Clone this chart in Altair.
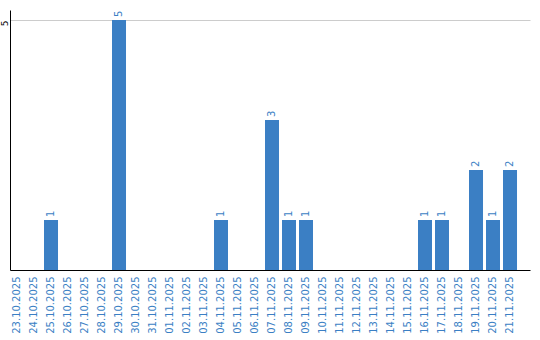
import altair as alt
import pandas as pd

dates = ["23.10.2025", "24.10.2025", "25.10.2025", "26.10.2025", "27.10.2025",
         "28.10.2025", "29.10.2025", "30.10.2025", "31.10.2025", "01.11.2025",
         "02.11.2025", "03.11.2025", "04.11.2025", "05.11.2025", "06.11.2025",
         "07.11.2025", "08.11.2025", "09.11.2025", "10.11.2025", "11.11.2025",
         "12.11.2025", "13.11.2025", "14.11.2025", "15.11.2025", "16.11.2025",
         "17.11.2025", "18.11.2025", "19.11.2025", "20.11.2025", "21.11.2025"]
counts = [0, 0, 1, 0, 0, 0, 5, 0, 0, 0,
          0, 0, 1, 0, 0, 3, 1, 1, 0, 0,
          0, 0, 0, 0, 1, 1, 0, 2, 1, 2]

df = pd.DataFrame({"date": dates, "count": counts})
df["label"] = df["count"].apply(lambda v: str(v) if v > 0 else "")

BLUE = "#3b7fc4"
FONT = "DejaVu Sans"

x = alt.X("date:N", sort=dates, title=None,
          scale=alt.Scale(paddingInner=0.176, paddingOuter=0.382, align=0),
          axis=alt.Axis(labelAngle=270, labelAlign="right", labelBaseline="middle",
                        labelColor=BLUE, labelFont=FONT, labelFontSize=10,
                        ticks=False, labelPadding=6, domainColor="black",
                        labelOverlap=False, grid=False))
y = alt.Y("count:Q", title=None,
          scale=alt.Scale(domain=[0, 5.2], nice=False),
          axis=alt.Axis(values=[5], labelAngle=270, labelAlign="right",
                        labelBaseline="middle", labelColor="black", labelFont=FONT,
                        labelFontSize=9, ticks=False, labelPadding=6,
                        domainColor="black", grid=True, gridColor="#cccccc"))

bars = alt.Chart(df).mark_bar(color=BLUE).encode(x=x, y=y)
text = alt.Chart(df).mark_text(angle=270, align="left", baseline="middle", dx=3,
                               color=BLUE, font=FONT, fontSize=10).encode(
    x=alt.X("date:N", sort=dates), y="count:Q", text="label:N")

chart = (bars + text).properties(
    width=520, height=260,
    background="white",
    autosize=alt.AutoSizeParams(type="none"),
    padding={"left": 10, "top": 10, "right": 10, "bottom": 70},
).configure_view(stroke=None)

chart.save("out.html", embed_options={"renderer": "svg", "actions": False})
